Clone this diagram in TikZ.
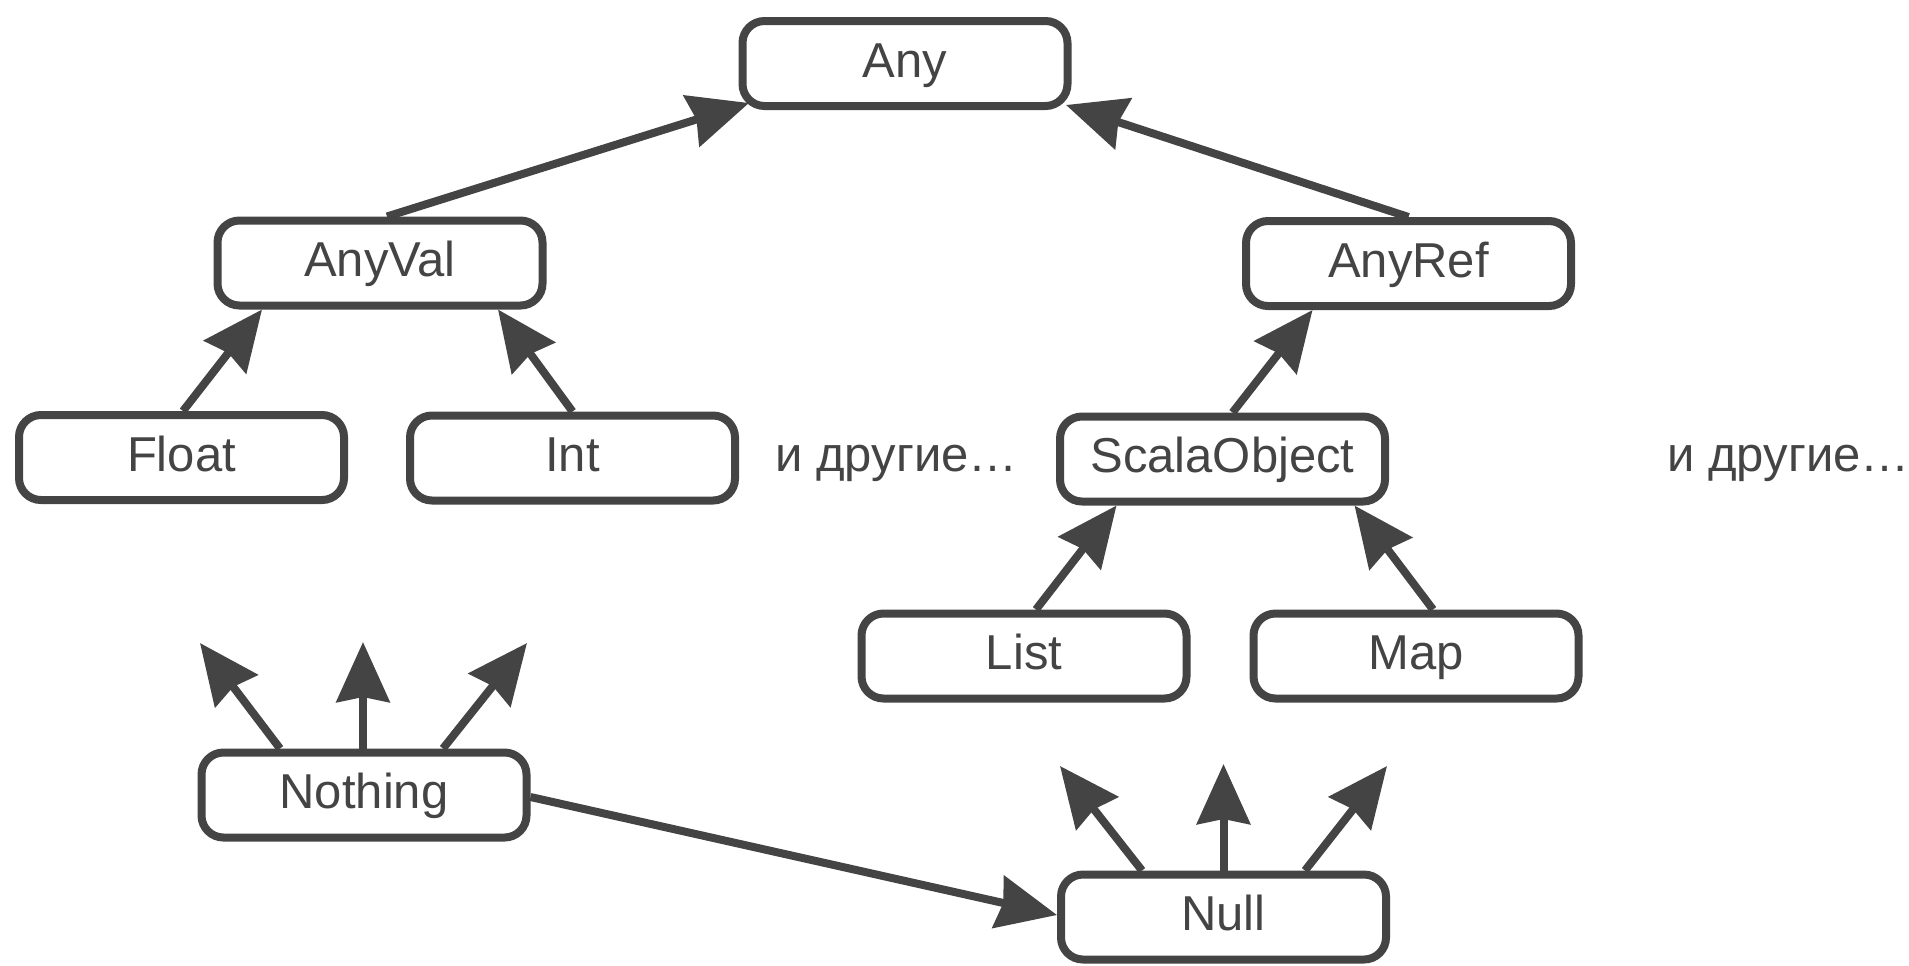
\documentclass[tikz,border=0pt]{standalone}
\usepackage{fontspec}
\setmainfont{Liberation Sans}
\usetikzlibrary{arrows.meta,calc}
\definecolor{ink}{HTML}{444444}
\begin{document}
\begin{tikzpicture}[x=0.5pt,y=-0.5pt,
  typebox/.style={draw=ink, line width=4pt, rounded corners=11pt,
    minimum width=162.5pt, minimum height=42.5pt, inner sep=0pt,
    text height=18pt, text depth=4.5pt,
    text=ink, font=\fontsize{24.5}{29}\selectfont},
  note/.style={text=ink, font=\fontsize{24.5}{29}\selectfont, inner sep=0pt,
    anchor=base west},
  sub/.style={draw=ink, line width=4pt,
    -{Stealth[length=30pt, width=26.5pt, inset=2.5pt]}}]
\useasboundingbox (0,0) rectangle (1909,965);

% type hierarchy boxes
\node[typebox] (any)     at (905,63.5)   {Any};
\node[typebox] (anyval)  at (380,263)    {AnyVal};
\node[typebox] (anyref)  at (1408.5,263.5) {AnyRef};
\node[typebox] (float)   at (181.5,457.5) {Float};
\node[typebox] (int)     at (572.5,458)  {Int};
\node[typebox] (scala)   at (1222.5,459) {ScalaObject};
\node[typebox] (list)    at (1024,656)   {List};
\node[typebox] (map)     at (1416,656)   {Map};
\node[typebox] (nothing) at (364,795)    {Nothing};
\node[typebox] (null)    at (1223.5,917) {Null};

\node[note] (moreval) at (775,471)  {и другие…};
\node[note] (moreref) at (1667,471) {и другие…};

% free ends of the bottom-type fans
\coordinate (n1) at (200,643);
\coordinate (n2) at (363,642);
\coordinate (n3) at (527,643);
\coordinate (u1) at (1060,766);
\coordinate (u2) at (1223.5,764);
\coordinate (u3) at (1387,766);

% subtype arrows
\draw[sub] ($(anyval.north)+(7,0)$) -- ($(any.south west)+(10.5,-7)$);
\draw[sub] (anyref.north) -- ($(any.south east)+(-5.5,-5)$);
\draw[sub] ($(float.north)+(1.5,0)$) -- ($(anyval.south)+(-118,0)$);
\draw[sub] (int.north) -- ($(anyval.south)+(118,0)$);
\draw[sub] ($(scala.north)+(10,0)$) -- ($(anyref.south)+(-96,0)$);
\draw[sub] ($(list.north)+(12,0)$) -- ($(scala.south)+(-106,0)$);
\draw[sub] ($(map.north)+(17,0)$) -- ($(scala.south)+(132,0)$);

\draw[sub] ($(nothing.north)+(-84,0)$) -- (n1);
\draw[sub] ($(nothing.north)+(-1,0)$) -- (n2);
\draw[sub] ($(nothing.north)+(79,0)$) -- (n3);
\draw[sub] ($(null.north)+(-81.5,0)$) -- (u1);
\draw[sub] (null.north) -- (u2);
\draw[sub] ($(null.north)+(81.5,0)$) -- (u3);

\draw[sub] ($(nothing.east)+(0,2)$) -- ($(null.west)+(0,-2)$);
\end{tikzpicture}
\end{document}
